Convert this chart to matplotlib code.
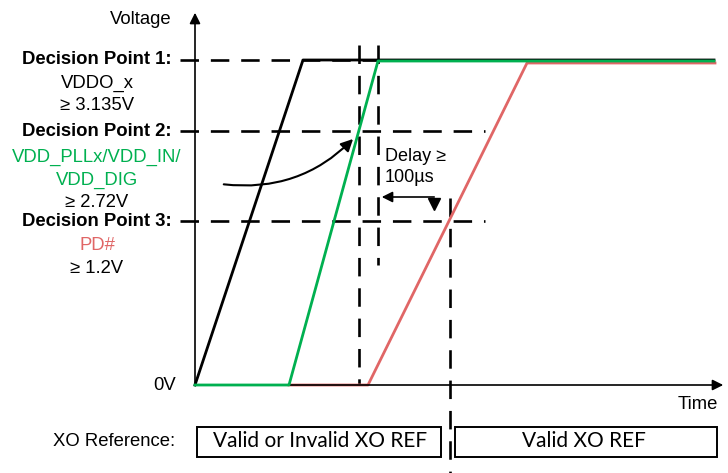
import matplotlib.pyplot as plt
from matplotlib.patches import FancyArrowPatch, Rectangle

# diagram units: x = time position, y = level position (pixel-like, y grows downward)
y_zero = 385
lvl_dp1, lvl_dp2, lvl_dp3 = 60, 131, 221

vddo_t = [195, 303, 714]
vddo_v = [385, 60, 60]
vdd_t = [195, 289, 378, 714]
vdd_v = [385, 385, 61, 61]
pd_t = [289, 368, 527, 715]
pd_v = [385, 385, 63, 63]

GREEN = '#00b050'
RED = '#e06666'

plt.rcParams['font.family'] = ['Liberation Sans', 'DejaVu Sans']

fig = plt.figure(figsize=(7.28, 4.73), dpi=100)
ax = fig.add_axes([0, 0, 1, 1])
ax.set_xlim(0, 728)
ax.set_ylim(473, 0)
ax.axis('off')

dash = dict(color='black', lw=1.9, ls=(0, (7, 4.5)))
# horizontal decision lines
ax.plot([180, 714], [lvl_dp1, lvl_dp1], **dash)
ax.plot([180, 485], [lvl_dp2, lvl_dp2], **dash)
ax.plot([180, 485], [lvl_dp3, lvl_dp3], **dash)
# vertical markers
ax.plot([359, 359], [45, y_zero], **dash)
ax.plot([378, 378], [45, 265], **dash)
ax.plot([450, 450], [198, 473], **dash)

ax.plot(pd_t, pd_v, color=RED, lw=2, zorder=3)
ax.plot(vddo_t, vddo_v, color='black', lw=2, zorder=4)
ax.plot(vdd_t, vdd_v, color=GREEN, lw=2, zorder=5)

# axes arrows
ax.annotate('', xy=(195, 10), xytext=(195, 386),
            arrowprops=dict(arrowstyle='-|>', lw=1.2, color='black', mutation_scale=16))
ax.annotate('', xy=(726, y_zero), xytext=(194, y_zero),
            arrowprops=dict(arrowstyle='-|>', lw=1.2, color='black', mutation_scale=16))

# curved arrow
ax.add_patch(FancyArrowPatch((221, 184), (355, 137), connectionstyle='arc3,rad=0.25',
                             arrowstyle='-|>', mutation_scale=18, lw=1.5, color='black', zorder=6))
# delay arrow
ax.annotate('', xy=(379, 197), xytext=(437, 197),
            arrowprops=dict(arrowstyle='-|>', lw=1.2, color='black', mutation_scale=16))
ax.plot([434], [204], marker='v', color='black', ms=8)
ax.text(385, 167, 'Delay ≥\n100µs', fontsize=13, ha='left', va='center', linespacing=1.25)

fs = 13.3
ax.text(172, 19, 'Voltage', fontsize=fs, ha='right', va='center')
ax.text(172, lvl_dp1, 'Decision Point 1:', fontsize=fs, weight='bold', ha='right', va='center')
ax.text(97, 83, 'VDDO_x', fontsize=fs, ha='center', va='center')
ax.text(97, 105, '≥ 3.135V', fontsize=fs, ha='center', va='center')
ax.text(172, lvl_dp2, 'Decision Point 2:', fontsize=fs, weight='bold', ha='right', va='center')
ax.text(97, 157, 'VDD_PLLx/VDD_IN/', fontsize=fs, ha='center', va='center', color=GREEN)
ax.text(97, 180, 'VDD_DIG', fontsize=fs, ha='center', va='center', color=GREEN)
ax.text(97, 202, '≥ 2.72V', fontsize=fs, ha='center', va='center')
ax.text(172, lvl_dp3, 'Decision Point 3:', fontsize=fs, weight='bold', ha='right', va='center')
ax.text(97, 245, 'PD#', fontsize=fs, ha='center', va='center', color=RED)
ax.text(97, 268, '≥ 1.2V', fontsize=fs, ha='center', va='center')
ax.text(176, 385, '0V', fontsize=fs, ha='right', va='center')
ax.text(718, 404, 'Time', fontsize=fs, ha='right', va='center')

ax.text(175, 441, 'XO Reference:', fontsize=fs, ha='right', va='center')
narrow = ['Lato', 'DejaVu Sans']
ax.add_patch(Rectangle((197, 427), 244, 30, fill=False, lw=1.4, ec='black'))
ax.add_patch(Rectangle((455, 427), 262, 30, fill=False, lw=1.4, ec='black'))
ax.text(320, 441, 'Valid or Invalid XO REF', fontsize=15, ha='center', va='center', family=narrow)
ax.text(584, 441, 'Valid XO REF', fontsize=15, ha='center', va='center', family=narrow)

fig.savefig('out.png', dpi=100)
